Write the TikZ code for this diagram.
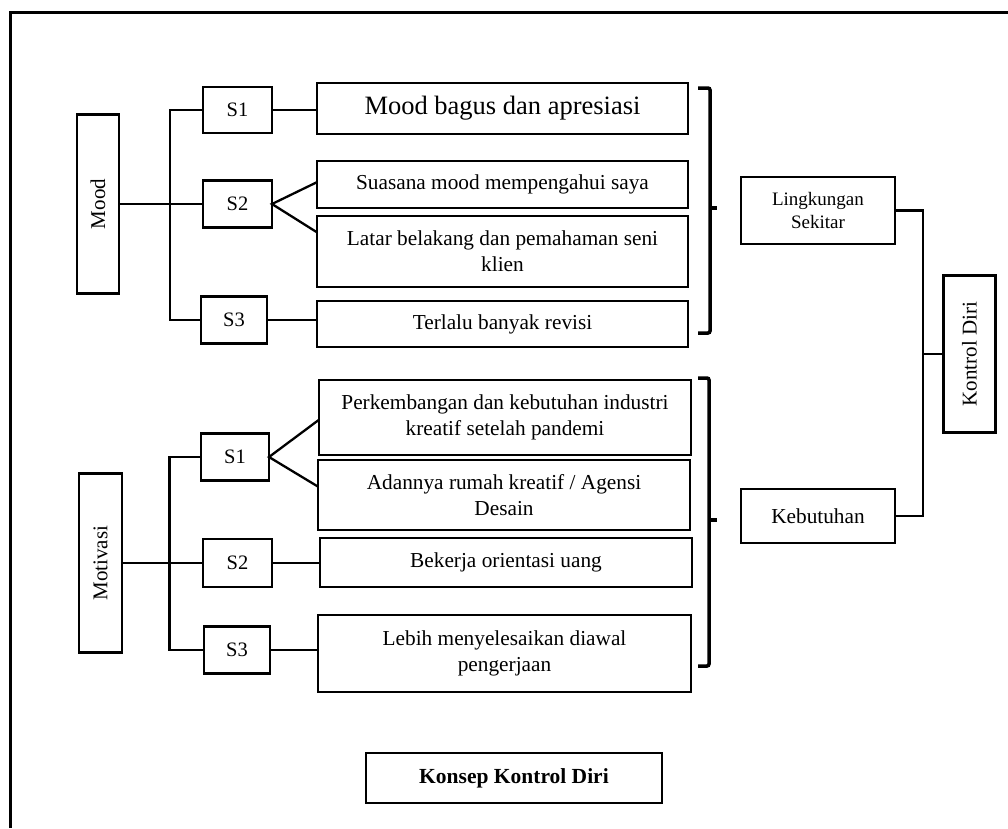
\documentclass[tikz,border=0pt]{standalone}
\usepackage{fontspec}
\setmainfont{Liberation Serif}
\usetikzlibrary{calc}
\begin{document}
\begin{tikzpicture}[x=1pt,y=-1pt,
  box/.style={draw, line width=2.3pt, inner sep=0pt, outer sep=0pt, align=center,
              font=\fontsize{21.3}{26}\selectfont},
  sbox/.style={box, font=\fontsize{20.5}{24}\selectfont},
  vlabel/.style={rotate=90, inner sep=0pt, font=\fontsize{21}{24}\selectfont},
  link/.style={line width=2.3pt},
  brace/.style={line width=3.5pt, rounded corners=2pt},
  frame/.style={line width=3pt}]
\useasboundingbox (0,0) rectangle (1008,828);

% page frame (top and left edges)
\draw[frame] (10,828) -- (10,12) -- (1008,12);

% ---------- Mood branch ----------
\node[box, minimum width=42pt, minimum height=179pt] (mood) at (98,204) {};
\node[vlabel] (moodtxt) at (mood.center) {Mood};

\node[sbox, minimum width=69pt, minimum height=46pt] (ms1) at (237.5,110) {S1};
\node[sbox, minimum width=69pt, minimum height=47pt] (ms2) at (237.5,204) {S2};
\node[sbox, minimum width=66pt, minimum height=47pt] (ms3) at (234,320) {S3};

\node[box, minimum width=371pt, minimum height=51pt, font=\fontsize{26.5}{28}\selectfont]
  (m1) at (502.5,108.5) {Mood bagus dan apresiasi};
\node[box, minimum width=371pt, minimum height=47pt] (m2) at (502.5,184.5)
  {Suasana mood mempengahui saya};
\node[box, minimum width=371pt, minimum height=71pt] (m3) at (502.5,251.5)
  {Latar belakang dan pemahaman seni\\klien};
\node[box, minimum width=371pt, minimum height=46pt] (m4) at (502.5,324)
  {Terlalu banyak revisi};

\coordinate (mtrunk) at (170,0);
\draw[link] (mood.east) -- (ms2.west);
\draw[link] (ms1.west) -- (ms1.west -| mtrunk) -- (ms3.west -| mtrunk) -- (ms3.west);
\draw[link] (ms1.east) -- (ms1.east -| m1.west);
\draw[link] ($(m2.north west)!0.45!(m2.south west)$) -- (ms2.east)
  -- ($(m3.north west)!0.23!(m3.south west)$);
\draw[link] (ms3.east) -- (ms3.east -| m4.west);

% bracket gathering the Mood statements
\draw[brace] (698,88) -- (710,88) -- (710,333) -- (698,333);
\draw[line width=3.5pt] (710,208) -- (717,208);

% ---------- Motivasi branch ----------
\node[box, minimum width=43pt, minimum height=179pt] (mot) at (100.5,563) {};
\node[vlabel] (mottxt) at (mot.center) {Motivasi};

\node[sbox, minimum width=68pt, minimum height=47pt] (ls1) at (235,457) {S1};
\node[sbox, minimum width=69pt, minimum height=48pt] (ls2) at (237.5,563) {S2};
\node[sbox, minimum width=66pt, minimum height=47pt] (ls3) at (237,650) {S3};

\node[box, minimum width=372pt, minimum height=75pt] (b1) at (505,417.5)
  {Perkembangan dan kebutuhan industri\\kreatif setelah pandemi};
\node[box, minimum width=372pt, minimum height=70pt] (b2) at (504,495)
  {Adannya rumah kreatif / Agensi\\Desain};
\node[box, minimum width=372pt, minimum height=49pt] (b3) at (506,562.5)
  {Bekerja orientasi uang};
\node[box, minimum width=373pt, minimum height=77pt] (b4) at (504.5,653.5)
  {Lebih menyelesaikan diawal\\pengerjaan};

\coordinate (ltrunk) at (169.5,0);
\draw[link] (mot.east) -- (ls2.west);
\draw[link] (ls1.west) -- (ls1.west -| ltrunk) -- (ls3.west -| ltrunk) -- (ls3.west);
\draw[link] ($(b1.north west)!0.53!(b1.south west)$) -- (ls1.east)
  -- ($(b2.north west)!0.38!(b2.south west)$);
\draw[link] (ls2.east) -- (ls2.east -| b3.west);
\draw[link] (ls3.east) -- (ls3.east -| b4.west);

% bracket gathering the Motivasi statements
\draw[brace] (698,378) -- (709,378) -- (709,666) -- (698,666);
\draw[line width=3.5pt] (709,520) -- (717,520);

% ---------- right side ----------
\node[box, minimum width=154pt, minimum height=67pt, font=\fontsize{19}{23}\selectfont]
  (ling) at (818,210.5) {Lingkungan\\Sekitar};
\node[box, minimum width=154pt, minimum height=54pt] (keb) at (818,516) {Kebutuhan};
\node[box, minimum width=52pt, minimum height=157pt] (kd) at (969.5,354) {};
\node[vlabel] (kdtxt) at (kd.center) {Kontrol Diri};

\coordinate (ktrunk) at (923,0);
\draw[link] (ling.east) -- (ling.east -| ktrunk) -- (keb.east -| ktrunk) -- (keb.east);
\draw[link] (kd.west) -- (kd.west -| ktrunk);

% ---------- title ----------
\node[box, line width=2.7pt, minimum width=296pt, minimum height=50pt,
      font=\fontsize{21.5}{24}\selectfont\bfseries] (title) at (514,778) {Konsep Kontrol Diri};
\end{tikzpicture}
\end{document}
